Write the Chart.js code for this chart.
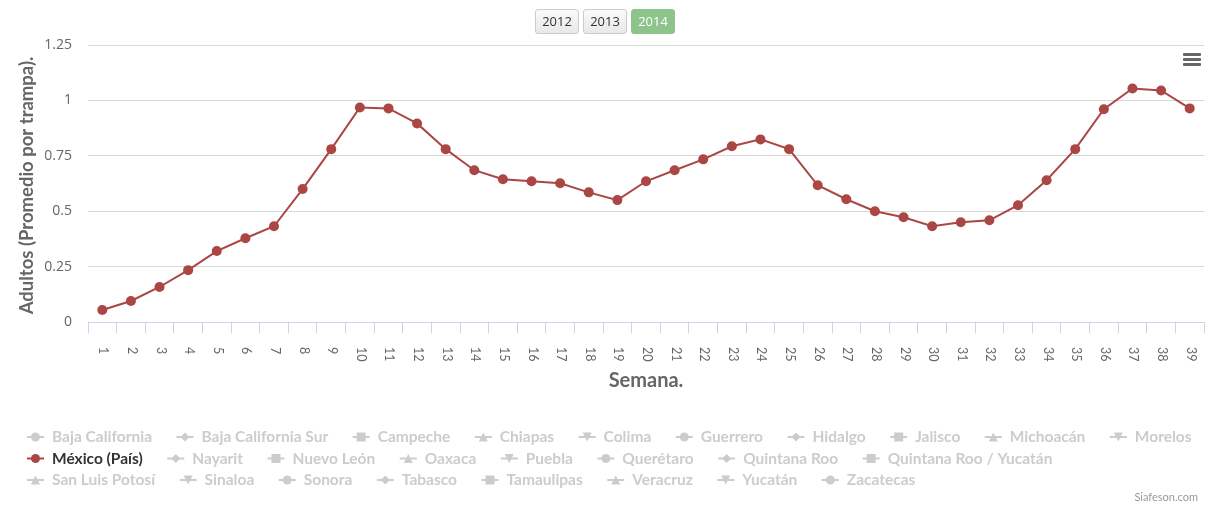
<!DOCTYPE html>
<html>
<head>
<meta charset="utf-8">
<title>Adultos por semana - 2014</title>
<script src="https://cdn.jsdelivr.net/npm/chart.js@4.4.1/dist/chart.umd.min.js"></script>
<style>
    html, body { margin: 0; padding: 0; background: #fff; }
    #wrap { position: relative; width: 1209px; height: 508px; overflow: hidden; }
    #chart { position: absolute; left: 0; top: 0; }
    .yr {
        position: absolute; top: 9px; width: 44px; height: 25px;
        box-sizing: border-box; border: 1px solid #ccc; border-radius: 3px;
        background: linear-gradient(#fafafa, #e8e8e8);
        font: 13px "Open Sans", sans-serif; color: #333;
        text-align: center; line-height: 23px;
    }
    .yr.on { background: #8cc48b; border-color: #8cc48b; color: #fff; }
    .menu { position: absolute; left: 1183px; width: 18px; height: 3px; background: #666; border-radius: 1px; }
</style>
</head>
<body>
<div id="wrap">
    <canvas id="chart" width="1209" height="508"></canvas>
    <div id="years"></div>
    <div class="menu" style="top:53px"></div>
    <div class="menu" style="top:58px"></div>
    <div class="menu" style="top:63px"></div>
</div>
<script>
// -------------------------
// Data
// -------------------------
const weeks = [
    "1","2","3","4","5","6","7","8","9","10",
    "11","12","13","14","15","16","17","18","19","20",
    "21","22","23","24","25","26","27","28","29","30",
    "31","32","33","34","35","36","37","38","39"
];

const mexicoValues = [
    0.054, 0.095, 0.158, 0.234, 0.32, 0.378, 0.432, 0.60, 0.78, 0.968,
    0.964, 0.896, 0.78, 0.685, 0.644, 0.635, 0.626, 0.585, 0.55, 0.635,
    0.685, 0.734, 0.793, 0.824, 0.78, 0.617, 0.554, 0.50, 0.473, 0.432,
    0.45, 0.459, 0.527, 0.64, 0.78, 0.96, 1.054, 1.045, 0.964
];

const yTicks = ["0", "0.25", "0.5", "0.75", "1", "1.25"];

const years = ["2012", "2013", "2014"];
const activeYear = "2014";

const legendNames = [
    "Baja California", "Baja California Sur", "Campeche", "Chiapas", "Colima",
    "Guerrero", "Hidalgo", "Jalisco", "Michoacán", "Morelos",
    "México (País)", "Nayarit", "Nuevo León", "Oaxaca", "Puebla",
    "Querétaro", "Quintana Roo", "Quintana Roo / Yucatán",
    "San Luis Potosí", "Sinaloa", "Sonora", "Tabasco", "Tamaulipas",
    "Veracruz", "Yucatán", "Zacatecas"
];
const legendRows = [10, 8, 8];
const activeSeries = "México (País)";

const lineColor = "#aa4643";
const axisGray = "#666666";

// -------------------------
// Year buttons
// -------------------------
const yearsBox = document.getElementById("years");
years.forEach((y, i) => {
    const b = document.createElement("div");
    b.className = "yr" + (y === activeYear ? " on" : "");
    b.style.left = (535 + i * 48) + "px";
    b.innerText = y;
    yearsBox.appendChild(b);
});

// -------------------------
// Extra drawing (labels, titles, legend)
// -------------------------
const symbols = ["circle", "diamond", "square", "triangle", "triangleDown"];

function drawSymbol(ctx, kind, x, y, color) {
    ctx.strokeStyle = color;
    ctx.fillStyle = color;
    ctx.lineWidth = 2;
    ctx.beginPath();
    ctx.moveTo(x, y);
    ctx.lineTo(x + 17, y);
    ctx.stroke();
    const cx = x + 8.5, r = 4.5;
    ctx.beginPath();
    if (kind === "circle") {
        ctx.arc(cx, y, r, 0, Math.PI * 2);
    } else if (kind === "diamond") {
        ctx.moveTo(cx, y - r); ctx.lineTo(cx + r, y); ctx.lineTo(cx, y + r); ctx.lineTo(cx - r, y);
    } else if (kind === "square") {
        ctx.rect(cx - r, y - r, r * 2, r * 2);
    } else if (kind === "triangle") {
        ctx.moveTo(cx, y - r); ctx.lineTo(cx + r, y + r); ctx.lineTo(cx - r, y + r);
    } else {
        ctx.moveTo(cx - r, y - r); ctx.lineTo(cx + r, y - r); ctx.lineTo(cx, y + r);
    }
    ctx.closePath();
    ctx.fill();
}

const extras = {
    id: "extras",
    afterDraw(chart) {
        const ctx = chart.ctx;
        const xs = chart.scales.x;
        const area = chart.chartArea;

        // x tick labels, rotated clockwise
        ctx.save();
        ctx.fillStyle = axisGray;
        ctx.font = "12.5px Lato, sans-serif";
        ctx.textAlign = "left";
        ctx.textBaseline = "middle";
        weeks.forEach((w, i) => {
            const px = xs.getPixelForValue(i);
            ctx.save();
            ctx.translate(px + 1, area.bottom + 25);
            ctx.rotate(Math.PI / 2);
            ctx.fillText(w, 0, 0);
            ctx.restore();
        });
        ctx.restore();

        // y axis title
        ctx.save();
        ctx.fillStyle = axisGray;
        ctx.font = "bold 18.5px Lato, sans-serif";
        ctx.textAlign = "center";
        ctx.textBaseline = "middle";
        ctx.translate(27, (area.top + area.bottom) / 2 + 2);
        ctx.rotate(-Math.PI / 2);
        ctx.fillText("Adultos (Promedio por trampa).", 0, 0);
        ctx.restore();

        // x axis title
        ctx.save();
        ctx.fillStyle = axisGray;
        ctx.font = "bold 20px Lato, sans-serif";
        ctx.textAlign = "center";
        ctx.textBaseline = "middle";
        ctx.fillText("Semana.", (area.left + area.right) / 2, 381);
        ctx.restore();

        // legend
        ctx.save();
        ctx.font = "bold 15.5px Lato, sans-serif";
        ctx.textBaseline = "middle";
        let idx = 0;
        legendRows.forEach((count, row) => {
            let x = 27;
            const y = 437 + row * 21.5;
            for (let k = 0; k < count; k++, idx++) {
                const name = legendNames[idx];
                const on = name === activeSeries;
                drawSymbol(ctx, symbols[idx % symbols.length], x, y, on ? lineColor : "#cccccc");
                ctx.fillStyle = on ? "#333333" : "#cccccc";
                ctx.fillText(name, x + 25, y);
                x += 25 + ctx.measureText(name).width + 24.5;
            }
        });
        ctx.restore();

        // credits
        ctx.save();
        ctx.fillStyle = "#999999";
        ctx.font = "11px Lato, sans-serif";
        ctx.textAlign = "right";
        ctx.textBaseline = "middle";
        ctx.fillText("Siafeson.com", 1198, 497);
        ctx.restore();
    }
};

// -------------------------
// Chart
// -------------------------
new Chart(document.getElementById("chart"), {
    type: "line",
    data: {
        labels: weeks,
        datasets: [{
            label: activeSeries,
            data: mexicoValues,
            borderColor: lineColor,
            backgroundColor: lineColor,
            borderWidth: 2,
            pointRadius: 5,
            pointHoverRadius: 5,
            pointBorderWidth: 0,
            tension: 0
        }]
    },
    options: {
        responsive: false,
        animation: false,
        events: [],
        layout: { padding: { top: 45, right: 5, bottom: 0, left: 0 } },
        plugins: {
            legend: { display: false },
            tooltip: { enabled: false }
        },
        scales: {
            x: {
                offset: true,
                grid: {
                    offset: true,
                    drawOnChartArea: false,
                    drawTicks: true,
                    tickLength: 11,
                    color: "#ccd6eb"
                },
                border: { color: "#ccd6eb", width: 1 },
                ticks: { display: false },
                afterFit(scale) { scale.height = 186; }
            },
            y: {
                min: 0,
                max: 1.25,
                grid: { color: "#d8d8d8", drawTicks: false },
                border: { display: false },
                ticks: {
                    stepSize: 0.25,
                    padding: 16,
                    color: axisGray,
                    font: { family: "'Open Sans', sans-serif", size: 14 },
                    callback: (v, i) => yTicks[i]
                },
                afterFit(scale) { scale.width = 88; }
            }
        }
    },
    plugins: [extras]
});
</script>
</body>
</html>
